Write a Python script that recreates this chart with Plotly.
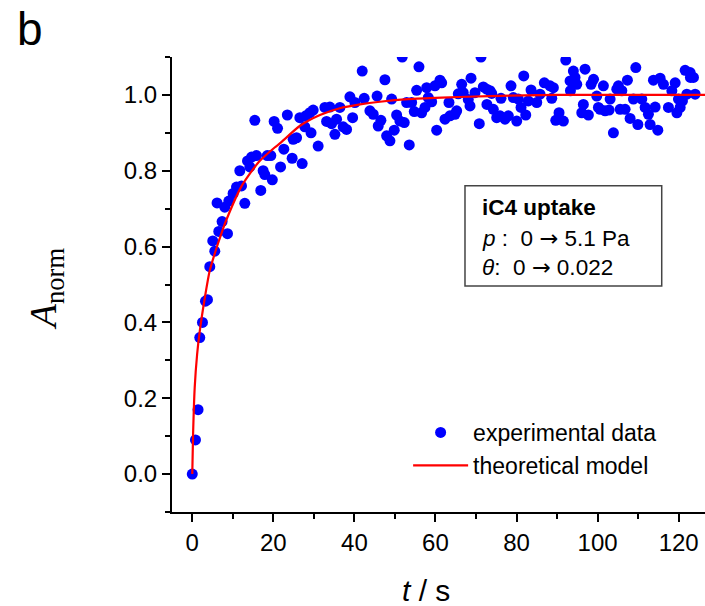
import plotly.graph_objects as go

# Experimental data (t in s, normalized absorbance)
t_exp = [0, 0.79, 1.43, 1.85, 2.52, 3.26, 3.75, 4.32, 5.06, 5.56, 6.12, 6.54, 7.36, 8.02, 8.69, 9.01,
         10.07, 10.91, 11.73, 12.15, 12.96, 13.63, 14.2, 14.62, 15.43, 15.85, 16.9, 17.48, 17.9, 18.5,
         19.38, 19.75, 20.2, 21.04, 21.78, 22.59, 23.46, 24.64, 24.89, 25.73, 26.54, 27.11, 27.78, 28.02,
         29.01, 29.3, 29.83, 31.06, 32.72, 33.14, 33.95, 34.37, 35.19, 35.6, 36.42, 37.23, 38.07, 38.89,
         39.56, 40.12, 41.93, 42.42, 43.83, 44.64, 45.6, 45.88, 46.54, 47.53, 47.95, 48.77, 49.19, 49.83,
         50.42, 51.23, 51.8, 52.3, 52.89, 53.53, 54.12, 54.77, 55.36, 55.93, 56.59, 57.41, 57.83, 58.22,
         59.06, 59.88, 60.3, 61.11, 61.53, 62.35, 63.33, 63.58, 64.81, 65.23, 65.63, 66.47, 66.86, 68.1,
         68.52, 68.77, 69.75, 70.81, 71.23, 71.8, 72.64, 72.7, 73.46, 73.88, 74.27, 75.11, 75.93, 76.17,
         77.16, 77.98, 78.64, 79.21, 80.05, 80.44, 81.11, 81.78, 82.27, 82.91, 83.58, 84.99, 85.8, 86.86,
         88.27, 88.69, 89.09, 89.68, 90.49, 91.56, 92.15, 93.21, 93.3, 94.02, 94.44, 94.86, 96.1, 96.49,
         96.91, 97.73, 98.4, 99.0, 99.8, 100.2, 100.62, 101.43, 101.85, 102.84, 103.09, 103.9, 104.74,
         105.14, 105.56, 105.98, 106.79, 107.36, 108.02, 108.84, 109.43, 109.93, 110.91, 111.73, 112.54,
         112.96, 113.78, 114.2, 114.86, 115.43, 116.25, 117.48, 118.32, 119.14, 119.56, 119.95, 120.37,
         120.94, 121.6, 122.02, 122.84, 122.9, 123.65, 124.07]
a_exp = [0.0, 0.09, 0.17, 0.36, 0.40, 0.456, 0.46, 0.547, 0.615, 0.588, 0.715, 0.64, 0.666, 0.704, 0.634, 0.72,
         0.74, 0.757, 0.80, 0.76, 0.714, 0.826, 0.81, 0.836, 0.933, 0.84, 0.748, 0.80, 0.79, 0.84,
         0.84, 0.776, 0.93, 0.912, 0.81, 0.857, 0.947, 0.833, 0.883, 0.887, 0.94, 0.819, 0.916, 0.945,
         0.953, 0.90, 0.96, 0.865, 0.967, 0.93, 0.968, 0.924, 0.896, 0.936, 0.967, 0.916, 0.909, 0.995,
         0.94, 0.98, 1.063, 0.991, 0.958, 0.949, 0.997, 0.918, 0.933, 1.04, 0.892, 0.879, 0.989, 0.907,
         0.947, 0.931, 1.10, 0.927, 0.98, 0.868, 0.98, 0.956, 1.012, 1.074, 0.953, 0.967, 1.019, 0.993,
         0.982, 1.024, 0.907, 1.039, 1.032, 0.936, 0.98, 0.945, 0.949, 0.958, 1.003, 1.028, 1.006, 0.988,
         0.971, 1.044, 1.006, 0.924, 1.10, 1.021, 1.015, 0.975, 1.011, 1.004, 0.962, 0.94, 0.945, 0.991,
         0.936, 0.945, 1.024, 0.993, 0.931, 0.989, 0.967, 1.05, 0.947, 0.984, 1.013, 0.98, 1.002, 1.032,
         1.024, 0.991, 1.019, 0.933, 0.953, 0.931, 1.092, 1.037, 1.011, 1.063, 1.046, 1.028, 0.953, 0.975,
         1.068, 0.947, 1.028, 1.041, 0.997, 0.967, 0.962, 1.024, 0.958, 0.96, 0.989, 0.90, 1.015,
         1.024, 0.962, 1.011, 0.962, 1.039, 0.938, 0.989, 1.072, 0.922, 0.989, 0.967, 0.949,
         0.922, 1.039, 0.968, 0.907, 1.044, 1.028, 0.967, 1.011, 1.032, 0.953, 0.989, 0.967,
         0.984, 1.065, 1.002, 1.059, 1.046, 1.046, 1.002]

# Theoretical model curve
t_model = [0, 0.2, 0.6, 1.2, 1.85, 3.1, 4.3, 6.0, 7.2, 8.4, 12.2, 16.4, 20.4, 21.6, 26.5, 31.5, 36.4,
           41.4, 46.3, 53.3, 61.5, 73.5, 90, 110, 130]
a_model = [0, 0.105, 0.228, 0.316, 0.377, 0.465, 0.536, 0.597, 0.635, 0.67, 0.76, 0.823, 0.862, 0.872,
           0.918, 0.947, 0.965, 0.975, 0.982, 0.989, 0.993, 0.997, 1.0, 1.0, 1.0]

x_ticks = [0, 20, 40, 60, 80, 100, 120]
y_ticks = [0.0, 0.2, 0.4, 0.6, 0.8, 1.0]

FONT = "Liberation Sans, Arial, sans-serif"

fig = go.Figure()
fig.add_trace(go.Scatter(
    x=t_exp, y=a_exp, mode="markers", name="experimental data",
    marker=dict(color="#0000FF", size=11, line=dict(width=0))))
fig.add_trace(go.Scatter(
    x=t_model, y=a_model, mode="lines", name="theoretical model",
    line=dict(color="#FF0000", width=2.2, shape="spline", smoothing=0.6)))

axis_common = dict(showline=True, linecolor="black", linewidth=2, mirror=False,
                   ticks="outside", ticklen=8, tickwidth=2, tickcolor="black",
                   showgrid=False, zeroline=False,
                   tickfont=dict(family=FONT, size=24, color="black"))

fig.update_xaxes(range=[-5, 126.5], tickvals=x_ticks, ticktext=[str(v) for v in x_ticks],
                 minor=dict(dtick=10, tick0=0, ticks="outside", ticklen=5, tickwidth=2, tickcolor="black"),
                 **axis_common)
fig.update_yaxes(range=[-0.1, 1.1], tickvals=y_ticks, ticktext=[f"{v:.1f}" for v in y_ticks],
                 minor=dict(dtick=0.1, tick0=0, ticks="outside", ticklen=5, tickwidth=2, tickcolor="black"),
                 **axis_common)

NB = "\u00a0"
ARR = "<span style='font-family:DejaVu Sans'>\u2192</span>"
fig.add_shape(type="rect", xref="paper", yref="paper", x0=0.5497, x1=0.9188, y0=0.4967, y1=0.7171,
              line=dict(color="#444444", width=1.5), fillcolor="white", layer="below")

ann = [
    dict(text="<b>iC4 uptake</b>", x=0.578, y=0.670),
    dict(text=f"<i>p</i>{NB}:{NB}{NB}0{NB}{ARR}{NB}5.1 Pa", x=0.578, y=0.602),
    dict(text=f"<i>\u03b8</i>:{NB}{NB}0{NB}{ARR}{NB}0.022", x=0.578, y=0.538),
]
for a in ann:
    fig.add_annotation(xref="paper", yref="paper", xanchor="left", yanchor="middle", showarrow=False,
                       font=dict(family=FONT, size=22.5, color="black"), **a)

# panel label
fig.add_annotation(xref="paper", yref="paper", x=-0.2664, y=1.0, xanchor="center", yanchor="bottom",
                   text="b", showarrow=False, font=dict(family=FONT, size=46, color="black"))
# axis titles
fig.add_annotation(xref="paper", yref="paper", x=0.476, y=-0.172, xanchor="center", yanchor="middle",
                   text="<i>t</i> / s", showarrow=False, font=dict(family=FONT, size=30, color="black"))
fig.add_annotation(xref="paper", yref="paper", x=-0.236, y=0.49, xanchor="center", yanchor="middle",
                   textangle=-90, text="<i>A</i><sub>norm</sub>", showarrow=False,
                   font=dict(family="Liberation Serif, Times New Roman, serif", size=38, color="black"))

fig.update_layout(
    width=705, height=606,
    margin=dict(l=172, r=0, t=57, b=94),
    paper_bgcolor="white", plot_bgcolor="white",
    showlegend=True,
    legend=dict(x=0.443, y=0.222, xanchor="left", yanchor="top", bgcolor="rgba(0,0,0,0)",
                itemwidth=55, tracegroupgap=0,
                font=dict(family=FONT, size=23, color="black")),
)

fig.write_html("out.html", config={"displayModeBar": False},
               post_script="document.body.style.margin='0px';")
